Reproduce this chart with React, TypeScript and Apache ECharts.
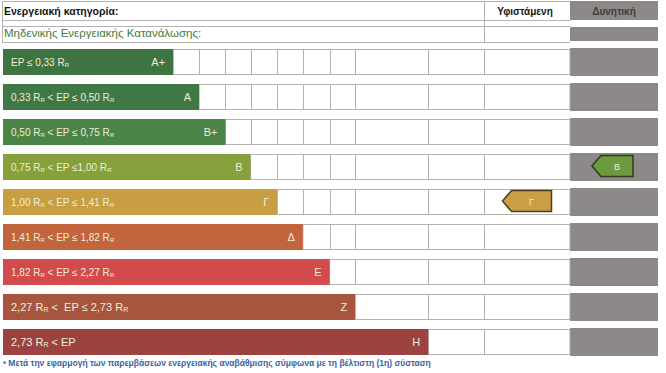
import React, { useEffect, useRef } from "react";
import * as echarts from "echarts";

// ---- data ----
const categories = ["Α+", "Α", "Β+", "Β", "Γ", "Δ", "Ε", "Ζ", "Η"];
const rangeLabels = [
  "EP ≤ 0,33 R{s|R}",
  "0,33 R{s|R} < EP ≤ 0,50 R{s|R}",
  "0,50 R{s|R} < EP ≤ 0,75 R{s|R}",
  "0,75 R{s|R} < EP ≤1,00 R{s|R}",
  "1,00 R{s|R} < EP ≤ 1,41 R{s|R}",
  "1,41 R{s|R} < EP ≤ 1,82 R{s|R}",
  "1,82 R{s|R} < EP ≤ 2,27 R{s|R}",
  "2,27 R{s|R} <  EP ≤ 2,73 R{s|R}",
  "2,73 R{s|R} < EP",
];
const barLengths = [40, 46.1, 52.3, 58.2, 64.5, 70.5, 76.8, 82.8, 100];
const barColors = [
  "#3d7442",
  "#3f7844",
  "#4b8447",
  "#86a03c",
  "#c79f42",
  "#c2643c",
  "#d14a4c",
  "#a8553f",
  "#9c4342",
];
const currentClass = "Γ";
const potentialClass = "Β";
const headerTitle = "Ενεργειακή κατηγορία:";
const subTitle = "Μηδενικής Ενεργειακής Κατανάλωσης:";
const columnHeaders = ["Υφιστάμενη", "Δυνητική"];
const footnote =
  "• Μετά την εφαρμογή των παρεμβάσεων ενεργειακής αναβάθμισης σύμφωνα με τη βέλτιστη (1η) σύσταση";

// ---- layout constants (axis units) ----
const COL_BAR_END = 100;
const COL_A_END = 113.1;
const COL_CUR_END = 133.3;
const COL_POT_END = 154;

const FONT = "'Liberation Sans', Arial, sans-serif";
const LINE = "#b3b1b1";
const GRAY = "#8d8988";
const TXT = "#efeed6";

export default function App() {
  const ref = useRef<HTMLDivElement>(null);
  useEffect(() => {
    if (!ref.current) return;
    const chart = echarts.init(ref.current, null, { renderer: "svg" });

    const rowItem = (params: any, api: any) => {
      const len = api.value(0) as number;
      const i = api.value(1) as number;
      const [x0, yc] = api.coord([0, i]);
      const xEnd = api.coord([len, i])[0];
      const xC = api.coord([COL_CUR_END, i])[0];
      const xP = api.coord([COL_POT_END, i])[0];
      const h = 25;
      const top = Math.round(yc - h / 2);
      const children: any[] = [];
      children.push({
        type: "rect",
        shape: { x: xC, y: top - 1, width: xP - xC, height: h + 3 },
        style: { fill: GRAY },
      });
      children.push({
        type: "rect",
        shape: { x: xEnd, y: top + 0.5, width: xC - xEnd, height: h },
        style: { fill: "#ffffff", stroke: LINE, lineWidth: 1 },
      });
      const bounds: number[] = [];
      for (let j = i + 1; j < barLengths.length; j++) bounds.push(barLengths[j]);
      bounds.push(COL_A_END);
      bounds.forEach((b) => {
        const x = Math.round(api.coord([b, i])[0]) + 0.5;
        children.push({
          type: "line",
          shape: { x1: x, y1: top, x2: x, y2: top + h + 1 },
          style: { stroke: LINE, lineWidth: 1 },
        });
      });
      children.push({
        type: "rect",
        shape: { x: x0, y: top, width: xEnd - x0, height: h + 1 },
        style: { fill: barColors[i] },
      });
      const fs = i >= 7 ? 11 : 10;
      children.push({
        type: "text",
        style: {
          x: x0 + 8,
          y: yc + 1,
          text: rangeLabels[i],
          fill: TXT,
          font: `${fs}px ${FONT}`,
          verticalAlign: "middle",
          align: "left",
          rich: {
            s: { fontSize: fs - 4, fill: TXT, padding: [5, 0, 0, 0], fontFamily: FONT },
          },
        },
      });
      children.push({
        type: "text",
        style: {
          x: xEnd - 8,
          y: yc + 1,
          text: categories[i],
          fill: TXT,
          font: `11px ${FONT}`,
          verticalAlign: "middle",
          align: "right",
        },
      });
      return { type: "group", children };
    };

    const arrowItem = (params: any, api: any) => {
      const i = api.value(0) as number;
      const col = api.value(1) as number;
      const yc = api.coord([0, i])[1];
      const left = col === 0 ? COL_A_END : COL_CUR_END;
      const right = col === 0 ? COL_CUR_END : COL_POT_END;
      const xl = api.coord([left, i])[0];
      const xr = api.coord([right, i])[0];
      const w = col === 0 ? 49 : 41;
      const cx = col === 0 ? (xl + xr) / 2 : (xl + xr) / 2 - 1.5;
      const a = cx - w / 2;
      const b = cx + w / 2;
      const hh = 10.5;
      const tip = 9;
      const fill = col === 0 ? "#c99f45" : "#6b9a3f";
      const stroke = col === 0 ? "#4f3e1c" : "#2c3b1d";
      const letter = col === 0 ? currentClass : potentialClass;
      return {
        type: "group",
        children: [
          {
            type: "polygon",
            shape: {
              points: [
                [a, yc],
                [a + tip, yc - hh],
                [b, yc - hh],
                [b, yc + hh],
                [a + tip, yc + hh],
              ],
            },
            style: { fill, stroke, lineWidth: 1.5 },
          },
          {
            type: "text",
            style: {
              x: (a + tip + b) / 2,
              y: yc + 1,
              text: letter,
              fill: TXT,
              font: `9px ${FONT}`,
              align: "center",
              verticalAlign: "middle",
            },
          },
        ],
      };
    };

    const hl = (y: number, x1: number, x2: number) => ({
      type: "line",
      shape: { x1, y1: y + 0.5, x2, y2: y + 0.5 },
      style: { stroke: LINE, lineWidth: 1 },
      silent: true,
    });

    chart.setOption({
      animation: false,
      backgroundColor: "#ffffff",
      grid: { left: 3, right: 8, top: 43.5, bottom: 14.5 },
      xAxis: {
        type: "value",
        min: 0,
        max: COL_POT_END,
        show: false,
      },
      yAxis: {
        type: "category",
        data: categories,
        inverse: true,
        show: false,
      },
      graphic: [
        hl(1, 2, 570),
        hl(20, 2, 570),
        hl(26, 2, 570),
        hl(42, 2, 570),
        {
          type: "line",
          shape: { x1: 2.5, y1: 1, x2: 2.5, y2: 43 },
          style: { stroke: LINE, lineWidth: 1 },
        },
        {
          type: "line",
          shape: { x1: 484.5, y1: 1, x2: 484.5, y2: 43 },
          style: { stroke: LINE, lineWidth: 1 },
        },
        { type: "rect", shape: { x: 570, y: 1, width: 88, height: 19 }, style: { fill: GRAY } },
        { type: "rect", shape: { x: 570, y: 27, width: 88, height: 14 }, style: { fill: GRAY } },
        {
          type: "text",
          x: 4,
          y: 11,
          style: {
            text: headerTitle,
            fill: "#141414",
            font: `bold 10.5px ${FONT}`,
            verticalAlign: "middle",
          },
        },
        {
          type: "text",
          x: 4,
          y: 33,
          style: {
            text: subTitle,
            fill: "#3c7c41",
            font: `11.5px ${FONT}`,
            verticalAlign: "middle",
          },
        },
        {
          type: "text",
          x: 525,
          y: 11,
          style: {
            text: columnHeaders[0],
            fill: "#141414",
            font: `bold 10px ${FONT}`,
            align: "center",
            verticalAlign: "middle",
          },
        },
        {
          type: "text",
          x: 614,
          y: 11,
          style: {
            text: columnHeaders[1],
            fill: "#3f3b38",
            font: `bold 10px ${FONT}`,
            align: "center",
            verticalAlign: "middle",
          },
        },
        {
          type: "text",
          x: 3,
          y: 363,
          style: {
            text: footnote,
            fill: "#3a63a6",
            font: `bold 8.5px ${FONT}`,
            verticalAlign: "middle",
          },
        },
      ],
      series: [
        {
          type: "custom",
          renderItem: rowItem,
          encode: { x: 0, y: 1 },
          data: barLengths.map((v, i) => [v, i]),
        },
        {
          type: "custom",
          renderItem: arrowItem,
          encode: { y: 0 },
          data: [
            [categories.indexOf(currentClass), 0],
            [categories.indexOf(potentialClass), 1],
          ],
          z: 5,
        },
      ],
    });
    return () => chart.dispose();
  }, []);
  return (
    <div
      ref={ref}
      style={{ position: "fixed", left: 0, top: 0, width: 666, height: 373 }}
    />
  );
}
